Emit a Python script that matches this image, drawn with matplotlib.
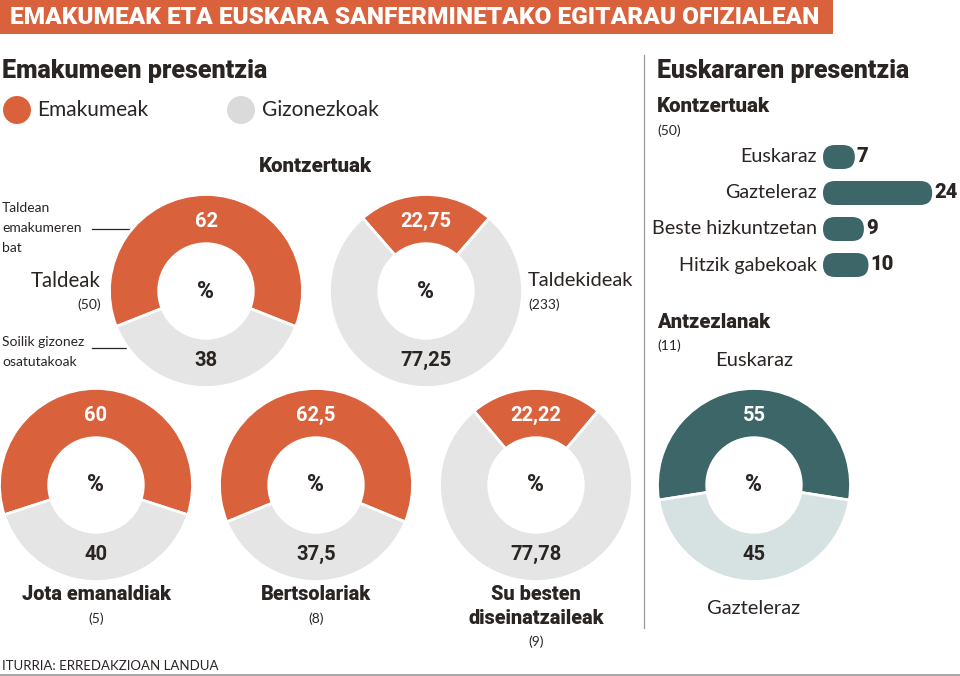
import matplotlib
matplotlib.use("Agg")
import matplotlib.pyplot as plt
from matplotlib.patches import Rectangle, FancyBboxPatch

# ---------------- data ----------------
header_title = "EMAKUMEAK ETA EUSKARA SANFERMINETAKO EGITARAU OFIZIALEAN"
left_title = "Emakumeen presentzia"
right_title = "Euskararen presentzia"
legend_labels = ["Emakumeak", "Gizonezkoak"]

donut_names = ["Taldeak", "Taldekideak", "Jota emanaldiak", "Bertsolariak", "Su besten\ndiseinatzaileak"]
donut_counts = ["(50)", "(233)", "(5)", "(8)", "(9)"]
women_pct = [62, 22.75, 60, 62.5, 22.22]
men_pct = [38, 77.25, 40, 37.5, 77.78]

bar_title = "Kontzertuak"
bar_count = "(50)"
bar_langs = ["Euskaraz", "Gazteleraz", "Beste hizkuntzetan", "Hitzik gabekoak"]
bar_vals = [7, 24, 9, 10]

theatre_title = "Antzezlanak"
theatre_count = "(11)"
theatre_langs = ["Euskaraz", "Gazteleraz"]
theatre_pct = [55, 45]

source = "ITURRIA: ERREDAKZIOAN LANDUA"

# ---------------- style ----------------
ORANGE = "#D9623D"
GREY = "#E5E5E5"
TEAL = "#3C6668"
LTEAL = "#D6E2E2"
DARK = "#2A2523"
BOLD = ["Roboto", "DejaVu Sans"]
REG = ["Lato", "DejaVu Sans"]

W, H = 960, 676
fig = plt.figure(figsize=(W / 100, H / 100), dpi=100)
fig.patch.set_facecolor("white")
bg = fig.add_axes([0, 0, 1, 1])
bg.set_xlim(0, W)
bg.set_ylim(H, 0)
bg.axis("off")


def fmt(v):
    return f"{v:g}".replace(".", ",")


def btxt(x, y, s, size, weight="bold", **kw):
    kw.setdefault("color", DARK)
    return bg.text(x, y, s, fontsize=size, family=BOLD, fontweight=weight, **kw)


def rtxt(x, y, s, size, **kw):
    kw.setdefault("color", DARK)
    return bg.text(x, y, s, fontsize=size, family=REG, fontweight="normal", **kw)


def fit_width(t, width_px):
    fig.canvas.draw()
    bb = t.get_window_extent(fig.canvas.get_renderer())
    t.set_fontsize(t.get_fontsize() * width_px / bb.width)
    return t.get_fontsize()


# header band
bg.add_patch(Rectangle((0, 0), 833, 34, color=ORANGE, lw=0))
ht = bg.text(10, 18, header_title, color="white", fontsize=16, family=BOLD,
             fontweight="black", va="center", ha="left")
fit_width(ht, 812)

# section titles
t1 = btxt(2, 78, left_title, 20, weight="heavy", va="baseline")
t2 = btxt(657, 78, right_title, 20, weight="heavy", va="baseline")
fit_width(t1, 266)
fit_width(t2, 253)

# legend
bg.scatter([17, 241], [110, 110], s=(28 * 0.72) ** 2, color=[ORANGE, "#DADADA"], lw=0, zorder=3)
rtxt(37, 110, legend_labels[0], 15, va="center")
rtxt(262, 110, legend_labels[1], 15, va="center")

k1 = btxt(315, 167, "Kontzertuak", 14, weight="heavy", ha="center", va="center")
fit_width(k1, 114)

# separators
bg.plot([644, 644], [55, 628], color="#9A9A9A", lw=0.9)
bg.plot([0, W], [675, 675], color="#9A9A9A", lw=1.2)

# donuts
R = 97
donut_centers = [(206, 291), (426, 291), (96, 485), (316, 485), (536, 485)]


def make_donut(cx, cy, vals, colors, top_col, bot_col):
    ax = fig.add_axes([(cx - R) / W, 1 - (cy + R) / H, 2 * R / W, 2 * R / H])
    tot = sum(vals)
    start = 90 - vals[0] / tot * 180
    ax.pie(vals, colors=colors, startangle=start, counterclock=True, radius=1,
           wedgeprops=dict(width=0.51, edgecolor="white", linewidth=2))
    ax.set_xlim(-1.005, 1.005)
    ax.set_ylim(-1.005, 1.005)
    ax.set_aspect("equal")
    ax.axis("off")
    ax.text(0, 0.72, fmt(vals[0]), ha="center", va="center", fontsize=14.5, family=BOLD,
            fontweight="bold", color=top_col)
    ax.text(0, -0.72, fmt(vals[1]), ha="center", va="center", fontsize=14.5, family=BOLD,
            fontweight="bold", color=bot_col)
    ax.text(0, 0, "%", ha="center", va="center", fontsize=16.5, family=BOLD,
            fontweight="heavy", color=DARK)
    return ax


for (cx, cy), w, m in zip(donut_centers, women_pct, men_pct):
    make_donut(cx, cy, [w, m], [ORANGE, GREY], "white", DARK)

# labels for top donuts
rtxt(101, 281, donut_names[0], 14.8, ha="right", va="center")
rtxt(101, 305, donut_counts[0], 10, ha="right", va="center")
rtxt(528, 281, donut_names[1], 14.5, ha="left", va="center")
rtxt(528, 305, donut_counts[1], 10, ha="left", va="center")

# callouts
rtxt(2, 228, "Taldean\nemakumeren\nbat", 10, ha="left", va="center", linespacing=1.85)
bg.plot([92, 151], [229, 229], color=DARK, lw=0.9)
bg.plot([151], [229], "o", color=DARK, ms=4)
rtxt(2, 352, "Soilik gizonez\nosatutakoak", 10, ha="left", va="center", linespacing=1.8)
bg.plot([92, 151], [348, 348], color=DARK, lw=0.9)
bg.plot([151], [348], "o", color=DARK, ms=4)

# labels for bottom donuts
bt = btxt(donut_centers[2][0], 595, donut_names[2], 14, weight="heavy", ha="center", va="center")
fs = fit_width(bt, 149)
for (cx, cy), name, cnt in zip(donut_centers[3:], donut_names[3:], donut_counts[3:]):
    lines = name.split("\n")
    y = 595
    for ln in lines:
        btxt(cx, y, ln, fs, weight="heavy", ha="center", va="center")
        y += 23
rtxt(donut_centers[2][0], 619, donut_counts[2], 10, ha="center", va="center")
rtxt(donut_centers[3][0], 619, donut_counts[3], 10, ha="center", va="center")
rtxt(donut_centers[4][0], 642, donut_counts[4], 10, ha="center", va="center")

# ---------------- bars ----------------
PX_X = 4.55   # px per unit
PX_Y = 36.0   # px per row
x0 = 823
top = 139
n = len(bar_vals)
xmax = 30
bax = fig.add_axes([x0 / W, 1 - (top + n * PX_Y) / H, xmax * PX_X / W, n * PX_Y / H])
bax.set_xlim(0, xmax)
bax.set_ylim(n - 0.5, -0.5)
bax.axis("off")
bh = 24 / PX_Y
bars = bax.barh(range(n), bar_vals, height=bh, color=TEAL)
for i, (b, v, lab) in enumerate(zip(bars, bar_vals, bar_langs)):
    b.set_visible(False)
    bx, by, bw, bhh = b.get_x(), b.get_y(), b.get_width(), b.get_height()
    pill = FancyBboxPatch((bx, by), bw, bhh,
                          boxstyle=f"round,pad=0,rounding_size={12 / PX_X}",
                          mutation_aspect=PX_X / PX_Y, color=TEAL, lw=0, clip_on=False)
    bax.add_patch(pill)
    bax.text(-6 / PX_X, i, lab, ha="right", va="center", fontsize=14.2, family=REG,
             fontweight="normal", color=DARK, clip_on=False)
    bax.text(v + 2 / PX_X, i, str(v), ha="left", va="center", fontsize=14.5, family=BOLD,
             fontweight="heavy", color=DARK, clip_on=False)

k2 = btxt(657, 107, bar_title, 14, weight="heavy", va="center")
fit_width(k2, 114)
rtxt(657, 131, bar_count, 10, va="center")

# ---------------- theatre donut ----------------
k3 = btxt(657, 322, theatre_title, 14, weight="heavy", va="center")
fit_width(k3, 113)
rtxt(657, 346, theatre_count, 10, va="center")
rtxt(754, 361, theatre_langs[0], 14.5, ha="center", va="center")
rtxt(754, 609, theatre_langs[1], 14.5, ha="center", va="center")
make_donut(754, 485, theatre_pct, [TEAL, LTEAL], "white", DARK)

# source
rtxt(2, 666, source, 9.5, va="center")

fig.savefig("out.png", dpi=100, facecolor="white")
